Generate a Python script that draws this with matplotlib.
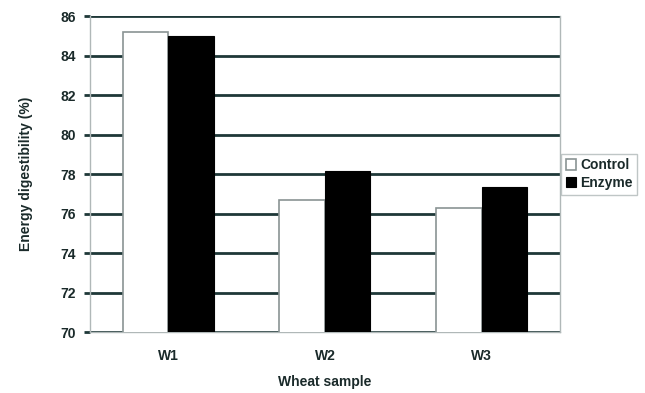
import numpy as np
import matplotlib
matplotlib.use("Agg")
import matplotlib.pyplot as plt

# data
samples = ["W1", "W2", "W3"]
control = [85.2, 76.7, 76.3]
enzyme = [85.0, 78.15, 77.35]
yticks = [70, 72, 74, 76, 78, 80, 82, 84, 86]

plt.rcParams['font.family'] = ['Liberation Sans', 'DejaVu Sans']
plt.rcParams['font.weight'] = 'bold'

fig = plt.figure(figsize=(6.45, 3.93), dpi=100)
ax = fig.add_axes([0.1395, 0.155, 0.7285, 0.804])

x = np.arange(len(samples))
w = 0.29
ax.bar(x - w/2, control, w, color="white", edgecolor="#8a9494",
       linewidth=1.2, label="Control", zorder=3)
ax.bar(x + w/2, enzyme, w, color="black", edgecolor="black",
       linewidth=0.8, label="Enzyme", zorder=3)

fs = 10
ax.set_ylim(70, 86)
ax.set_xlim(-0.5, 2.5)
ax.set_yticks(yticks)
ax.set_xticks(x)
ax.set_xticklabels(samples, fontsize=fs, fontweight="bold", color="#1a2a2a")
ax.set_yticklabels([str(t) for t in yticks], fontsize=fs, fontweight="bold", color="#1a2a2a")
ax.yaxis.grid(True, color="#1e3838", linewidth=2.0, zorder=1)
ax.set_axisbelow(True)

for s in ["left", "right", "bottom"]:
    ax.spines[s].set_color("#b0b8b8")
    ax.spines[s].set_linewidth(1.0)
ax.spines["top"].set_visible(False)
ax.tick_params(axis="y", length=4, width=2, color="#1e3838", pad=6)
ax.tick_params(axis="x", length=0, pad=12)

ax.set_ylabel("Energy digestibility (%)", fontsize=fs, fontweight="bold",
              labelpad=20, color="#1a2a2a")
ax.set_xlabel("Wheat sample", fontsize=fs, fontweight="bold", labelpad=9,
              color="#1a2a2a")

leg = ax.legend(loc="center left", bbox_to_anchor=(1.003, 0.5), fontsize=fs,
                frameon=True, fancybox=False, handlelength=0.7, handleheight=0.8,
                handletextpad=0.3, borderpad=0.35, labelspacing=0.25,
                borderaxespad=0)
leg.get_frame().set_edgecolor("#b0b8b8")
leg.get_frame().set_linewidth(1.0)
for t in leg.get_texts():
    t.set_fontweight("bold")
    t.set_color("#1a2a2a")

fig.savefig("out.png", dpi=100)
